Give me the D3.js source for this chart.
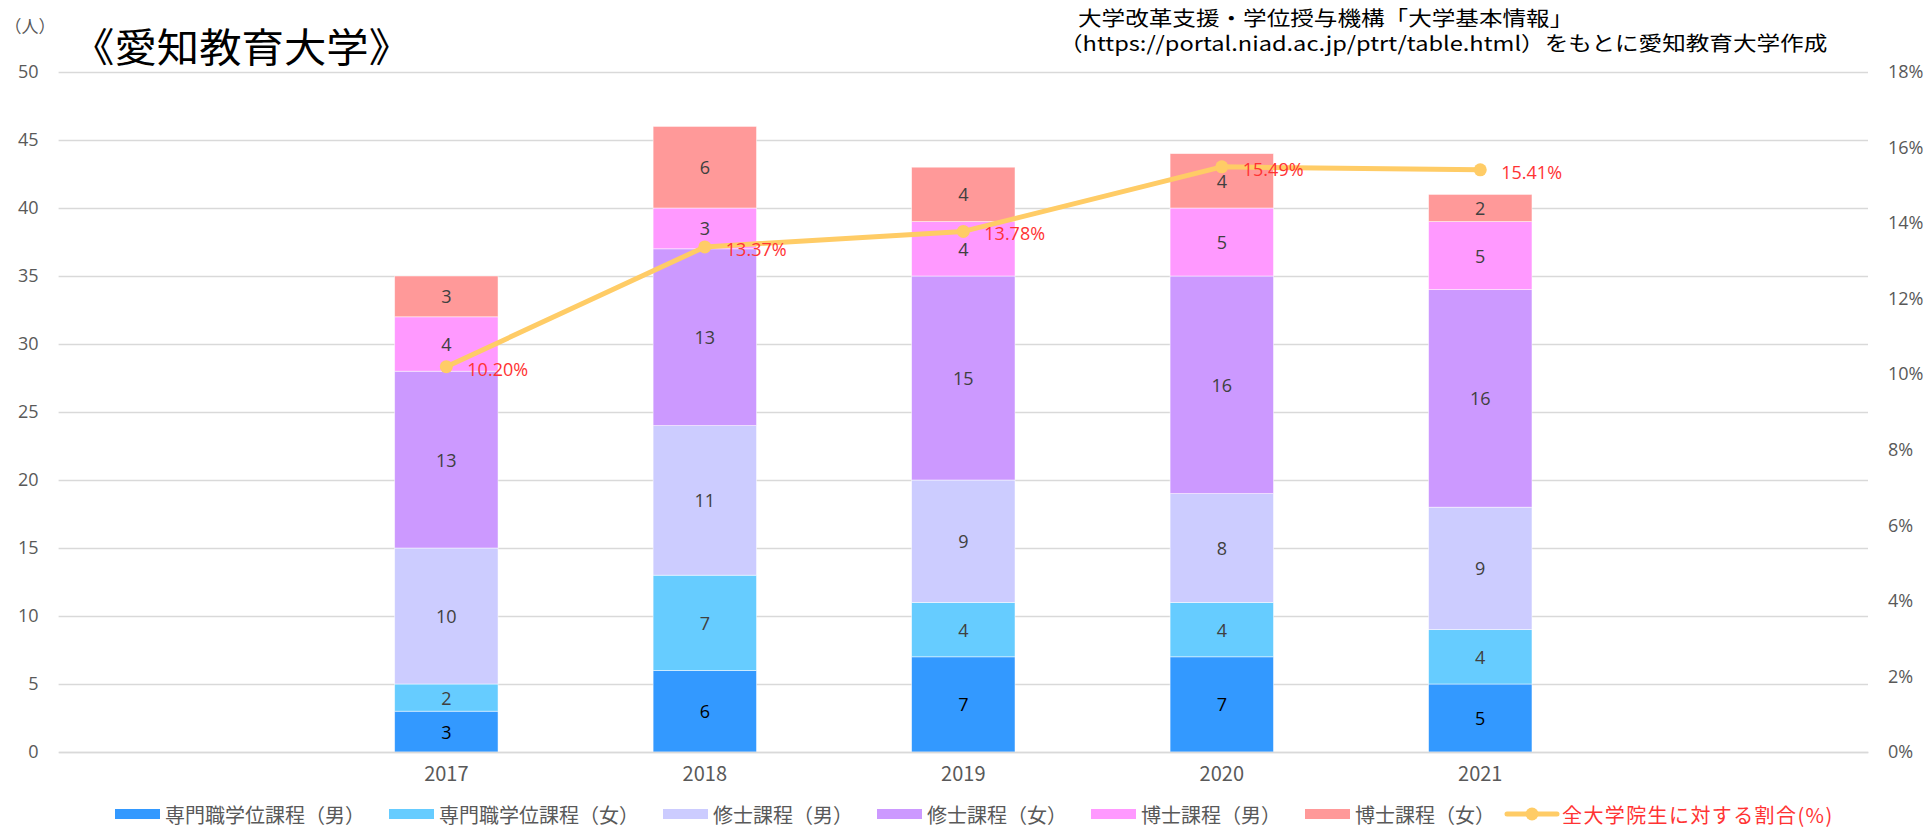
<!DOCTYPE html>
<html>
<head>
<meta charset="utf-8">
<script src="https://cdn.jsdelivr.net/npm/d3@7"></script>
<style>
  html, body { margin: 0; padding: 0; background: #fff; }
  svg { display: block; }
</style>
</head>
<body>
<svg id="chart" width="1930" height="829"></svg>
<script>
// ---- data ----
const years = ["2017", "2018", "2019", "2020", "2021"];
const seriesNames = ["専門職学位課程（男）", "専門職学位課程（女）", "修士課程（男）", "修士課程（女）", "博士課程（男）", "博士課程（女）"];
const proMale    = [3, 6, 7, 7, 5];
const proFemale  = [2, 7, 4, 4, 4];
const mastMale   = [10, 11, 9, 8, 9];
const mastFemale = [13, 13, 15, 16, 16];
const docMale    = [4, 3, 4, 5, 5];
const docFemale  = [3, 6, 4, 4, 2];
const rate       = [0.1020, 0.1337, 0.1378, 0.1549, 0.1541];
const rateName   = "全大学院生に対する割合(%)";
const yTicks  = [0, 5, 10, 15, 20, 25, 30, 35, 40, 45, 50];
const y2Ticks = [0, 0.02, 0.04, 0.06, 0.08, 0.10, 0.12, 0.14, 0.16, 0.18];
const colors = ["#3399FF", "#66CCFF", "#CCCCFF", "#CC99FF", "#FF99FF", "#FF9999"];
const lineColor = "#FFCC66";
const redText = "#FF3333";

const title = "《愛知教育大学》";
const unitLabel = "（人）";
const sourceLines = ["大学改革支援・学位授与機構「大学基本情報」", "（https://portal.niad.ac.jp/ptrt/table.html）をもとに愛知教育大学作成"];

// ---- layout ----
const plotL = 58.6, plotR = 1868, plotT = 72, plotB = 752;
const jp = "'Noto Sans CJK JP', 'Noto Sans', sans-serif";
const num = "'Open Sans', 'Noto Sans', sans-serif";

const svg = d3.select("#chart");

const allSeries = [proMale, proFemale, mastMale, mastFemale, docMale, docFemale];
const table = years.map((yr, i) => {
  const row = { year: yr };
  seriesNames.forEach((s, k) => row[s] = allSeries[k][i]);
  row.rate = rate[i];
  return row;
});

const x = d3.scaleBand()
  .domain(["_padL", ...years, "_padR"])
  .range([plotL, plotR])
  .paddingInner(0.6)
  .paddingOuter(0.3);
const y = d3.scaleLinear().domain([0, 50]).range([plotB, plotT]);
const y2 = d3.scaleLinear().domain([0, 0.18]).range([plotB, plotT]);

// gridlines + left axis
const gLeft = svg.append("g").attr("transform", `translate(${plotL},0)`)
  .call(d3.axisLeft(y).tickValues(yTicks).tickSize(-(plotR - plotL)).tickPadding(20));
gLeft.select(".domain").remove();
gLeft.selectAll(".tick line").attr("stroke", "#D9D9D9").attr("stroke-width", 1.3);
gLeft.selectAll(".tick text").attr("fill", "#595959").style("font-family", num).style("font-size", "18px");

// right axis
const gRight = svg.append("g").attr("transform", `translate(${plotR},0)`)
  .call(d3.axisRight(y2).tickValues(y2Ticks).tickSize(0).tickPadding(20).tickFormat(d3.format(".0%")));
gRight.select(".domain").remove();
gRight.selectAll(".tick text").attr("fill", "#595959").style("font-family", num).style("font-size", "18px");

// bars
const stack = d3.stack().keys(seriesNames);
const stacked = stack(table);
const layers = svg.append("g").selectAll("g").data(stacked).join("g")
  .attr("fill", (d, i) => colors[i]);
layers.selectAll("rect").data(d => d).join("rect")
  .attr("x", d => x(d.data.year))
  .attr("width", x.bandwidth())
  .attr("y", d => y(d[1]))
  .attr("height", d => y(d[0]) - y(d[1]))
  .attr("stroke", "#ffffff")
  .attr("stroke-opacity", 0.6)
  .attr("stroke-width", 0.8);

// bottom axis
const gX = svg.append("g").attr("transform", `translate(0,${plotB})`)
  .call(d3.axisBottom(x).tickSize(0).tickSizeOuter(0).tickFormat(d => years.includes(d) ? d : ""));
gX.select(".domain").attr("stroke", "#D9D9D9").attr("stroke-width", 1.3);
gX.selectAll(".tick text")
  .attr("y", 21.5).attr("dy", "0.35em")
  .attr("fill", "#595959").style("font-family", jp).style("font-size", "20px");

// bar value labels
const labelG = svg.append("g");
stacked.forEach((layer, k) => {
  labelG.selectAll(null).data(layer).join("text")
    .attr("x", d => x(d.data.year) + x.bandwidth() / 2)
    .attr("y", d => (y(d[0]) + y(d[1])) / 2)
    .attr("text-anchor", "middle")
    .attr("dominant-baseline", "central")
    .attr("fill", k === 0 ? "#000000" : "#404040")
    .style("font-family", num)
    .style("font-size", "18px")
    .text(d => d[1] - d[0]);
});

// rate line
const cx = d => x(d.year) + x.bandwidth() / 2;
svg.append("path").datum(table)
  .attr("fill", "none")
  .attr("stroke", lineColor)
  .attr("stroke-width", 5)
  .attr("stroke-linejoin", "round")
  .attr("stroke-linecap", "round")
  .attr("d", d3.line().x(cx).y(d => y2(d.rate)));
svg.append("g").selectAll("circle").data(table).join("circle")
  .attr("cx", cx).attr("cy", d => y2(d.rate)).attr("r", 6.5)
  .attr("fill", lineColor);
svg.append("g").selectAll("text").data(table).join("text")
  .attr("x", d => cx(d) + 21)
  .attr("y", d => y2(d.rate) + 2)
  .attr("dominant-baseline", "central")
  .attr("fill", redText)
  .style("font-family", num)
  .style("font-size", "18px")
  .text(d => d3.format(".2%")(d.rate));

// title / unit / source
svg.append("text").attr("transform", "translate(72,45) scale(1.06,1)").attr("dominant-baseline", "central")
  .attr("fill", "#000").style("font-family", jp).style("font-size", "40px").text(title);
svg.append("text").attr("x", 30).attr("y", 25).attr("text-anchor", "middle").attr("dominant-baseline", "central")
  .attr("fill", "#595959").style("font-family", jp).style("font-size", "17px").text(unitLabel);
svg.append("text").attr("transform", "translate(1078,17) scale(1.18,1)").attr("dominant-baseline", "central")
  .attr("fill", "#000").style("font-family", jp).style("font-size", "20px").text(sourceLines[0]);
svg.append("text").attr("transform", "translate(1059,42) scale(1.18,1)").attr("dominant-baseline", "central")
  .attr("fill", "#000").style("font-family", jp).style("font-size", "20px").text(sourceLines[1]);

// legend
const legY = 814;
const leg = svg.append("g");
let lx = 115;
seriesNames.forEach((name, i) => {
  leg.append("rect").attr("x", lx).attr("y", legY - 5).attr("width", 45).attr("height", 10).attr("fill", colors[i]);
  const t = leg.append("text").attr("x", lx + 50).attr("y", legY).attr("dominant-baseline", "central")
    .attr("fill", "#595959").style("font-family", jp).style("font-size", "20px").text(name);
  lx += 50 + t.node().getComputedTextLength() + 24;
});
lx -= 12;
leg.append("line").attr("x1", lx).attr("x2", lx + 50).attr("y1", legY).attr("y2", legY)
  .attr("stroke", lineColor).attr("stroke-width", 5).attr("stroke-linecap", "round");
leg.append("circle").attr("cx", lx + 25).attr("cy", legY).attr("r", 6.5).attr("fill", lineColor);
leg.append("text").attr("x", lx + 55).attr("y", legY).attr("dominant-baseline", "central")
  .attr("fill", redText).style("font-family", jp).style("font-size", "20px")
  .style("letter-spacing", "1.4px").text(rateName);
</script>
</body>
</html>
